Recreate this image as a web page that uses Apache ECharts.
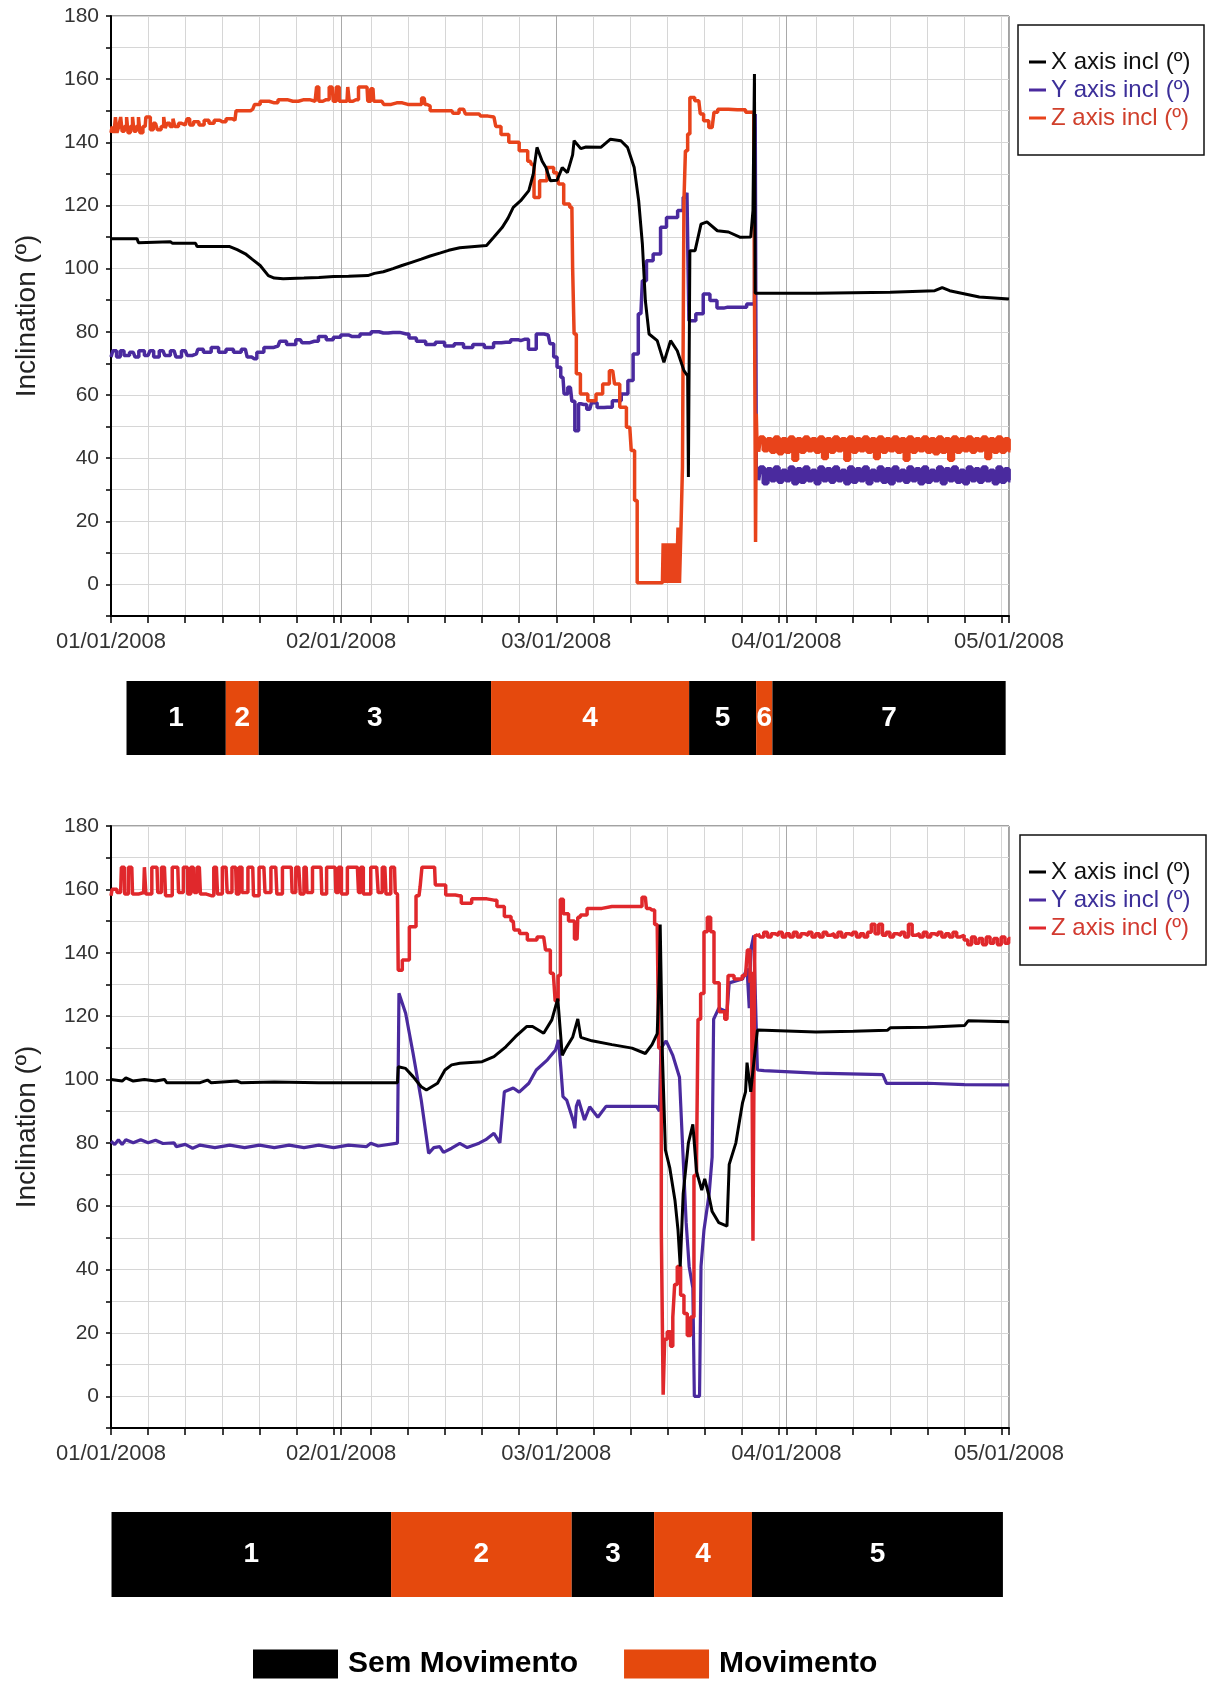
<!DOCTYPE html>
<html><head><meta charset="utf-8">
<script src="https://cdn.jsdelivr.net/npm/echarts@6/dist/echarts.min.js"></script>
<style>html,body{margin:0;padding:0;background:#fff}#c{width:1214px;height:1681px}</style>
</head><body><div id="c"></div>
<script>
const FONT = '"Liberation Sans", Arial, Helvetica, sans-serif';
// x positions are days since 01/01/2008
const monthTickDays = [0, 31, 60, 91, 121];
const monthTickLabels = ['01/01/2008', '02/01/2008', '03/01/2008', '04/01/2008', '05/01/2008'];
const seriesNames = ['X axis incl (º)', 'Y axis incl (º)', 'Z axis incl (º)'];
const bandLegendNames = ['Sem Movimento', 'Movimento'];

// ---------- upper chart ----------
const topX = [[0,109.5],[3.5,109.5],[3.7,108.2],[8,108.5],[8.3,108],[11.4,108],[11.6,107],[16,107],[17,106],[18.1,104.7],[19,103],[20.1,101],[21.2,97.8],[22,97],[23.2,96.8],[26,97],[28,97.2],[30,97.5],[32,97.6],[34.6,97.8],[35.5,98.5],[36.7,99],[38,100],[39.2,101],[40.5,102],[41.8,103],[43,104],[44.4,105],[45.5,105.8],[47,106.6],[49,107],[50.6,107.3],[51.6,110],[52.7,113],[53.5,116],[54.2,119.4],[55.2,121.5],[56.3,124.7],[56.9,130],[57.4,138.4],[58.1,134],[58.6,132],[59.2,127.8],[60.1,128],[60.8,132],[61.5,130.4],[62.2,136],[62.4,140.5],[63.3,138],[64,138.5],[66,138.4],[67.3,141],[68.7,140.5],[69.6,138.4],[70.5,132],[71.1,121.5],[71.6,107.8],[72,89.9],[72.5,79.3],[73.6,77.2],[74.5,70.3],[75.4,77.2],[76.3,74],[77.2,67.7],[77.7,66],[77.8,34],[78.0,105.7],[78.7,105.7],[79.5,114.1],[80.3,114.8],[81.7,112],[83.2,111.6],[84.8,109.9],[86.2,110],[86.5,118.4],[86.7,161.6],[86.8,92.2],[95,92.2],[105,92.5],[111,93],[112,94],[113,93],[117,91],[121,90.4]];
const topY = [[0,72],[0.5,74],[1,72],[1.5,74],[2,72.5],[3,73.5],[3.5,72],[4,74],[5,72.5],[5.5,74],[6,72],[7,74],[7.5,72.5],[8.5,74],[9,72],[10,74],[10.5,72.5],[11.5,73],[11.9,74.5],[13,73.5],[14,75],[15,73.5],[16,74.5],[17,73.5],[18.1,74.5],[18.6,72],[19.3,71.5],[20,73.5],[21.2,75],[22.5,75.5],[23,77],[24.3,76],[25.5,77.5],[26,76.5],[27.4,77],[28.5,78.5],[29.5,77.5],[30.4,78.3],[31.5,79],[32.5,78.5],[34.6,79.3],[35.5,80],[36.7,79.6],[38,79.8],[39.8,79.3],[40.5,78],[41.8,77],[43,76],[44.4,76.7],[45.5,75.5],[47,76.2],[48,75],[49.5,76],[51.1,75],[52,76.5],[53.2,76.7],[54.5,77.5],[55.2,77.2],[55.7,77.6],[56.8,74.5],[57.8,79.3],[58.9,79],[59.4,76.2],[59.9,72],[60.3,68.8],[60.9,65.6],[61.2,60.3],[61.9,62.4],[62.3,58],[62.7,48.7],[63.3,57.2],[63.7,57],[64.5,55.5],[65,57.5],[66,56],[66.9,56.1],[68.2,58.2],[69.3,60.3],[70,64.6],[70.7,73],[71.4,85.7],[71.8,96.2],[72.5,102.5],[73.6,104.6],[74.5,113.1],[75.2,116.2],[75.9,116.2],[76.8,118.4],[77.4,122.6],[77.8,124],[77.95,83.5],[78.1,83.5],[79.5,85.7],[80.1,92],[81.3,89.9],[82,87.5],[83.1,87.8],[84.9,87.8],[86.4,88.8],[86.7,88.8],[86.9,149],[87.0,35],[87.2,34]];
const topYTail = [33,37,32,36.5,33,37,32.5,36,33,37,32,36.5,32.5,37,33,36,32,37,33,36.5,32.5,37,33,36,32,37,32.5,36.5,33,37,32,36,33,37,32.5,36.5,32,37,33,36,32.5,37,33,36.5,32,37,32.5,36,33,37,32,36.5,33,37,32.5,36,32,37,33,36.5,32.5,37,33,36,32,37,32.5,36.5,33];
const topZ = [[0,143],[0.3,145],[0.5,143],[0.7,148],[0.9,143],[1.2,145],[1.4,148],[1.6,143.5],[2.0,145],[2.2,148],[2.4,143],[2.8,145],[3.0,148],[3.2,143.5],[3.6,145],[3.8,148],[4.0,143],[4.6,145],[4.8,148],[5.2,148],[5.4,144],[6.0,146],[6.5,144],[7.0,145],[7.2,148],[7.4,144.5],[7.7,146],[8.2,145],[8.5,147.5],[8.7,145],[9.5,146],[10,145.5],[10.5,147.5],[10.7,145.5],[11.5,146.5],[12.2,145.5],[12.9,147],[13.5,146],[14.3,147],[15,146.5],[16,147.5],[16.7,147],[17,150],[18.5,150],[19.1,150.5],[19.6,152],[20.6,153],[22,152.5],[23,153.5],[24.5,153],[26,153.5],[27.5,153],[27.9,157.5],[28.1,153],[29,153.5],[29.8,157.5],[30.1,153],[30.6,157.5],[30.9,153],[31.8,153],[32.0,157.5],[32.2,153],[33,153.5],[33.7,157.5],[34.5,157.5],[34.7,153],[35.3,157],[35.5,153],[36.5,153],[37,152],[38.5,152.5],[40,152],[41.5,152],[42.2,154],[42.4,152],[42.8,151.5],[43.2,150],[44.5,150],[45.9,150],[46.3,149.2],[47.5,150.5],[48,149],[49.6,149],[50,148.3],[51.6,148],[52.1,145],[53,142.5],[54.2,140],[55.8,137.3],[56.5,134],[56.8,133],[57.2,122.5],[58.3,127.8],[59.2,132],[60.1,130.4],[60.5,126.8],[61.5,120.5],[62.1,119.4],[62.3,100.4],[62.5,79.3],[62.9,66.7],[63.6,60.3],[64.9,58.2],[65.8,60.3],[66.7,63.5],[67.6,67.7],[68.1,63.5],[69,56.1],[69.9,49.8],[70.3,42.4],[70.8,26.6],[71,0.5],[74.3,0.5],[74.5,13],[74.7,0.5],[74.9,13],[75.1,0.5],[75.3,13],[75.5,0.5],[75.7,13],[75.9,0.5],[76.1,13],[76.3,0.5],[76.5,18],[76.7,0.5],[76.9,18],[77.1,37],[77.3,121.5],[77.5,137.3],[77.9,142.6],[78.1,154.2],[79.2,153.2],[79.6,149],[80.1,146.8],[81,144.7],[81.5,149.5],[82,150.5],[84.4,150.3],[86.6,149.5],[86.8,149],[86.9,13.4],[87.0,54],[87.1,44],[87.2,42]];
const topZTail = [42,46.5,42.5,46,42,46.5,41.5,46,42,46.5,39.5,46,42,46.5,42.5,46,42,46.5,40,46,42,46.5,42.5,46,39.5,46.5,42,46,42.5,46.5,42,46,40,46.5,42,46,42.5,46.5,42,46,39.5,46.5,42,46,42.5,46.5,42,46,41.5,46.5,42,46,39.5,46.5,42,46,42.5,46.5,42,46,42.5,46.5,40,46,42,46.5,42,46,42.5];

// ---------- lower chart ----------
const botX = [[0,100],[1.5,99.5],[2,100.5],[3,99.5],[4.5,100],[6,99.5],[7.2,100],[7.5,99],[12,99],[13,99.8],[13.5,99],[17,99.5],[17.5,99],[22,99.2],[28,99],[33,99],[38.6,99],[38.7,104],[39.7,103.5],[40.7,100.9],[41.8,97.7],[42.5,96.7],[44,98.8],[45,103],[45.9,104.6],[47,105.1],[50,105.6],[51.6,107.2],[53.2,110.3],[54.5,113.5],[56,116.7],[56.8,116.7],[58.3,114.6],[59.4,118.8],[60.2,125.5],[60.8,107.6],[61.3,109.9],[62.2,113.3],[62.9,119.1],[63.3,113.3],[64.8,112.2],[67.5,111],[70.2,109.9],[72,108.2],[72.9,111],[73.6,114.5],[73.9,135],[74.0,148.9],[74.3,107.6],[74.7,77.8],[75.3,72],[76,61.7],[76.4,52.5],[76.7,41],[77.1,64],[77.8,80],[78.4,85.8],[78.9,70.9],[79.6,65.1],[80,68.6],[80.5,64],[81,58.3],[81.9,54.8],[83,53.7],[83.3,73.2],[84.2,80],[85.1,92.7],[85.5,96.1],[85.7,105.3],[86.2,96.1],[86.6,105],[87.1,115.6],[95,115],[100,115.2],[104.6,115.5],[105,116.3],[110,116.5],[115,117],[115.5,118.5],[121,118.2]];
const botY = [[0,80.5],[0.5,79.5],[1,81],[1.5,79.5],[2,81],[3,80],[4,81],[5,80],[6,80.8],[7,79.8],[8.5,80],[8.8,78.8],[10,79.5],[11,78.3],[12,79.3],[14,78.5],[16,79.3],[18,78.5],[20,79.3],[22,78.5],[24,79.3],[26,78.5],[28,79.3],[30,78.5],[32,79.3],[34.4,78.8],[35,79.9],[36,79],[38.6,79.9],[38.8,127.2],[39.7,120.9],[40.7,108.3],[41.8,93.5],[42.8,76.7],[43.5,78.5],[44.3,78.8],[44.8,77],[45.9,78.3],[47,79.8],[48,78.5],[49.6,79.9],[50.5,81],[51.6,83],[52.4,80],[53,96.1],[54.2,97.3],[55,96],[56.3,98.8],[57.3,103],[58.8,106.2],[59.9,109.3],[60.3,112.5],[60.6,104],[60.9,94.6],[61.4,93.5],[62.3,86.9],[62.5,84.6],[62.7,91.5],[63,93.5],[63.8,87.2],[64.5,91.4],[65.6,88.1],[66.7,91.5],[69.9,91.5],[73.5,91.5],[73.9,90],[74.1,109.9],[74.8,112.2],[75.7,107.6],[76.6,100.7],[77,80],[77.5,54.8],[77.9,41],[78.4,34.2],[78.6,0],[79.3,0],[79.5,41],[79.9,52.5],[80.6,64],[81,75.5],[81.2,119],[81.9,122.5],[83,121.4],[83.3,130.5],[85.1,131.7],[85.7,135.1],[86,122.5],[86.2,140.9],[86.6,145.4],[87.1,103],[88,102.8],[95,102],[104,101.5],[104.5,98.8],[110,98.8],[115,98.4],[121,98.3]];
const botZ = [[0,158],[0.3,160],[1.3,159],[1.5,167],[1.8,167],[1.9,158.5],[2.8,167],[3.0,158.5],[4.4,159],[4.6,167],[4.8,158.5],[6.2,167],[6.4,159],[7.2,167],[7.5,158],[9,167],[9.2,159],[10.3,167],[10.4,158.5],[11.1,167],[11.3,159],[11.9,167],[12.2,158.5],[13.5,158],[14.2,167],[14.5,158.5],[15.5,167],[15.8,159],[16.8,167],[17,158.5],[17.5,167],[17.8,159],[19.1,167],[19.3,158],[20.6,167],[20.9,159],[22.2,167],[22.5,158.5],[23.7,167],[24.3,167],[24.5,159],[25.3,167],[25.7,158.5],[26.3,167],[26.5,159],[27.8,167],[28.3,167],[28.5,158.5],[29.6,167],[30.2,167],[30.4,159],[30.9,167],[31.2,158.5],[32.5,167],[33.2,167],[33.5,159],[33.8,167],[34.2,158.5],[35.8,167],[36.2,159],[36.9,167],[37.2,158.5],[38.2,167],[38.4,159],[38.6,158.5],[38.8,134.5],[39.7,137.7],[40.7,148.2],[41.5,158],[41.8,160.8],[42,167],[43.6,167],[43.8,161.4],[44.3,161.4],[45.9,158.2],[46.9,158],[47.5,155.6],[49.7,157],[51.6,156.6],[52.4,154.6],[53.6,151.4],[54.2,150],[54.4,147.2],[55.7,146.1],[56.5,144],[58.3,145],[58.8,140.9],[59.6,133.5],[60.1,124.8],[60.4,132.8],[60.7,156.9],[61.2,152.3],[62.1,150],[62.8,144.3],[63,151.2],[63.5,151.9],[64.8,154],[67.5,154.6],[71.1,154.6],[72,157.5],[72.3,154],[72.9,153.5],[73.6,148.9],[74,109.9],[74.3,52.5],[74.5,0.5],[74.7,18],[75.2,20.4],[75.6,15.8],[75.8,25],[76.1,35.3],[76.5,41],[77,31.9],[77.4,26.1],[77.9,19.2],[78.3,25],[78.8,69.7],[79,75.5],[79.2,119],[79.7,127.1],[80.1,146.6],[80.6,151.2],[81,146.6],[81.5,130.5],[82.4,121.4],[83,119],[83.3,132.8],[84.6,131.7],[85.5,132.8],[86,140.9],[86.2,130.5],[86.4,134],[86.6,49.1],[86.9,145.4],[87.1,145.5],[87.2,146]];
const botZTail = [146,145,146.5,145,146,145.5,146.5,145,146,145,146.5,145,146,145.5,146.5,145,146,145,146.5,145.5,146,145,146.5,145,146,145.5,146.5,145,146,145,146.5,149,146,149,145.5,146.5,145,146,145.5,146.5,145,149,145.5,146,145,146.5,145,146,145.5,146.5,145,146,145,146.5,145,145.5,144,142.5,145,143,144.5,142.5,145,143,144.5,142.5,145,143,144.5];
const tailStartDay = 87.2, tailStepDay = 0.5;

// ---------- phase bands (start day, end day, kind: 0 = Sem Movimento, 1 = Movimento) ----------
const topBandStart = [2.09, 15.47, 19.9, 51.21, 77.9, 86.93, 89.12];
const topBandEnd   = [15.47, 19.9, 51.21, 77.9, 86.93, 89.12, 120.55];
const topBandKind  = [0, 1, 0, 1, 0, 1, 0];
const topBandLabel = ['1', '2', '3', '4', '5', '6', '7'];
const botBandStart = [0.07, 37.74, 62.08, 73.18, 86.36];
const botBandEnd   = [37.74, 62.08, 73.18, 86.36, 120.18];
const botBandKind  = [0, 1, 0, 1, 0];
const botBandLabel = ['1', '2', '3', '4', '5'];

const C_X = '#000000', C_Y = '#4a2a9e', C_ZTOP = '#e8431b', C_ZBOT = '#e0282c';
const C_STILL = '#000000', C_MOVE = '#e5490d';
const GRID_C = '#d6d6d6', MONTH_C = '#a9a9a9';

function tailPoints(vals) {
  return vals.map((v, i) => [tailStartDay + i * tailStepDay, v]);
}

function chartAxesX(grid) {
  return [
    { gridIndex: grid, type: 'value', min: 0, max: 121, interval: 5,
      axisLine: { show: true, onZero: false, lineStyle: { color: '#000', width: 2 } },
      axisTick: { show: true, length: 7, lineStyle: { color: '#000', width: 1.5 } },
      axisLabel: { show: false },
      splitLine: { show: true, lineStyle: { color: GRID_C, width: 1 } } },
    { gridIndex: grid, type: 'value', min: 0, max: 121, position: 'bottom',
      axisLine: { show: false, onZero: false },
      axisTick: { show: true, length: 7, customValues: monthTickDays, lineStyle: { color: '#000', width: 1.5 } },
      axisLabel: { show: true, customValues: monthTickDays, margin: 15, fontSize: 22, color: '#333', fontFamily: FONT,
        formatter: v => monthTickLabels[monthTickDays.indexOf(v)] || '' },
      splitLine: { show: true, lineStyle: { color: MONTH_C, width: 1 } } }
  ];
}
function chartAxisY(grid) {
  return { gridIndex: grid, type: 'value', min: -10, max: 180, interval: 10,
    name: 'Inclination (º)', nameLocation: 'middle', nameGap: 70,
    nameTextStyle: { fontSize: 28, color: '#222', fontFamily: FONT },
    axisLine: { show: true, onZero: false, lineStyle: { color: '#000', width: 2 } },
    axisTick: { show: true, length: 5, lineStyle: { color: '#000', width: 1.5 } },
    axisLabel: { margin: 12, fontSize: 21, color: '#333', fontFamily: FONT,
      formatter: v => (v >= 0 && v % 20 === 0) ? String(v) : '' },
    splitLine: { show: true, lineStyle: { color: GRID_C, width: 1 } } };
}
function hiddenX(grid) { return { gridIndex: grid, type: 'value', min: 0, max: 121, show: false }; }
function hiddenY(grid) { return { gridIndex: grid, type: 'value', min: 0, max: 1, show: false }; }

function lineSeries(name, data, color, xi, yi, z, step, width) {
  return { name, type: 'line', data, xAxisIndex: xi, yAxisIndex: yi, symbol: 'none', showSymbol: false,
    step: step ? 'middle' : false,
    lineStyle: { color, width: width || 3 }, itemStyle: { color }, z, silent: true, clip: true };
}
function bandSeries(starts, ends, kinds, labels, xi, yi) {
  return { type: 'custom', xAxisIndex: xi, yAxisIndex: yi, silent: true,
    data: starts.map((s, i) => [s, ends[i], kinds[i]]),
    encode: { x: [0, 1] },
    renderItem: (params, api) => {
      const p0 = api.coord([api.value(0), 1]);
      const p1 = api.coord([api.value(1), 0]);
      return { type: 'rect',
        shape: { x: p0[0], y: p0[1], width: p1[0] - p0[0], height: p1[1] - p0[1] },
        style: { fill: api.value(2) === 1 ? C_MOVE : C_STILL },
        textContent: { style: { text: labels[params.dataIndex], fill: '#fff', fontSize: 28, fontWeight: 'bold', fontFamily: FONT } },
        textConfig: { position: 'inside' } };
    } };
}
function seriesLegend(top, zTextColor, zIconColor) {
  return { orient: 'vertical', left: 1029, top, padding: 0, itemGap: 0, itemWidth: 17, itemHeight: 3, icon: 'rect',
    selectedMode: false,
    textStyle: { fontSize: 24, lineHeight: 28, fontFamily: FONT },
    data: [
      { name: seriesNames[0], itemStyle: { color: C_X }, textStyle: { color: '#111' } },
      { name: seriesNames[1], itemStyle: { color: C_Y }, textStyle: { color: '#3c2f99' } },
      { name: seriesNames[2], itemStyle: { color: zIconColor }, textStyle: { color: zTextColor } }
    ] };
}

const chart = echarts.init(document.getElementById('c'), null, { renderer: 'canvas' });
chart.setOption({
  animation: false,
  backgroundColor: '#ffffff',
  grid: [
    { left: 111, right: 205, top: 16, height: 600, show: true, borderColor: '#444', borderWidth: 1 },
    { left: 111, right: 205, top: 681, height: 74 },
    { left: 111, right: 205, top: 826, height: 602, show: true, borderColor: '#444', borderWidth: 1 },
    { left: 111, right: 205, top: 1512, height: 85 }
  ],
  xAxis: [...chartAxesX(0), hiddenX(1), ...chartAxesX(2), hiddenX(3)],
  yAxis: [chartAxisY(0), hiddenY(1), chartAxisY(2), hiddenY(3)],
  legend: [
    seriesLegend(48, '#d0402c', C_ZTOP),
    seriesLegend(858, '#d23a30', C_ZBOT),
    { left: 253, top: 1649, padding: 0, orient: 'horizontal', itemGap: 46, itemWidth: 85, itemHeight: 29, icon: 'rect',
      selectedMode: false,
      textStyle: { fontSize: 30, fontWeight: 'bold', color: '#000', fontFamily: FONT, padding: [0, 0, 0, 5] },
      data: [
        { name: bandLegendNames[0], itemStyle: { color: C_STILL } },
        { name: bandLegendNames[1], itemStyle: { color: C_MOVE } }
      ] }
  ],
  graphic: [
    { type: 'rect', shape: { x: 1018, y: 25, width: 186, height: 130 }, style: { fill: 'none', stroke: '#111', lineWidth: 1.5 }, z: 100 },
    { type: 'rect', shape: { x: 1020, y: 835, width: 186, height: 130 }, style: { fill: 'none', stroke: '#111', lineWidth: 1.5 }, z: 100 }
  ],
  series: [
    lineSeries(seriesNames[1], topY, C_Y, 0, 0, 2, true, 3.5),
    lineSeries(seriesNames[1], tailPoints(topYTail), C_Y, 0, 0, 2, true, 4.5),
    lineSeries(seriesNames[2], topZ, C_ZTOP, 0, 0, 3, true, 3.5),
    lineSeries(seriesNames[2], tailPoints(topZTail), C_ZTOP, 0, 0, 3, true, 4.5),
    lineSeries(seriesNames[0], topX, C_X, 0, 0, 4, false, 3),
    bandSeries(topBandStart, topBandEnd, topBandKind, topBandLabel, 2, 1),
    lineSeries(seriesNames[1], botY, C_Y, 3, 2, 2, false, 3.2),
    lineSeries(seriesNames[2], botZ, C_ZBOT, 3, 2, 3, true, 3.5),
    lineSeries(seriesNames[2], tailPoints(botZTail), C_ZBOT, 3, 2, 3, true, 3.5),
    lineSeries(seriesNames[0], botX, C_X, 3, 2, 4, false, 3),
    bandSeries(botBandStart, botBandEnd, botBandKind, botBandLabel, 5, 3),
    { name: bandLegendNames[0], type: 'bar', data: [], xAxisIndex: 5, yAxisIndex: 3, itemStyle: { color: C_STILL } },
    { name: bandLegendNames[1], type: 'bar', data: [], xAxisIndex: 5, yAxisIndex: 3, itemStyle: { color: C_MOVE } }
  ]
});
</script></body></html>
